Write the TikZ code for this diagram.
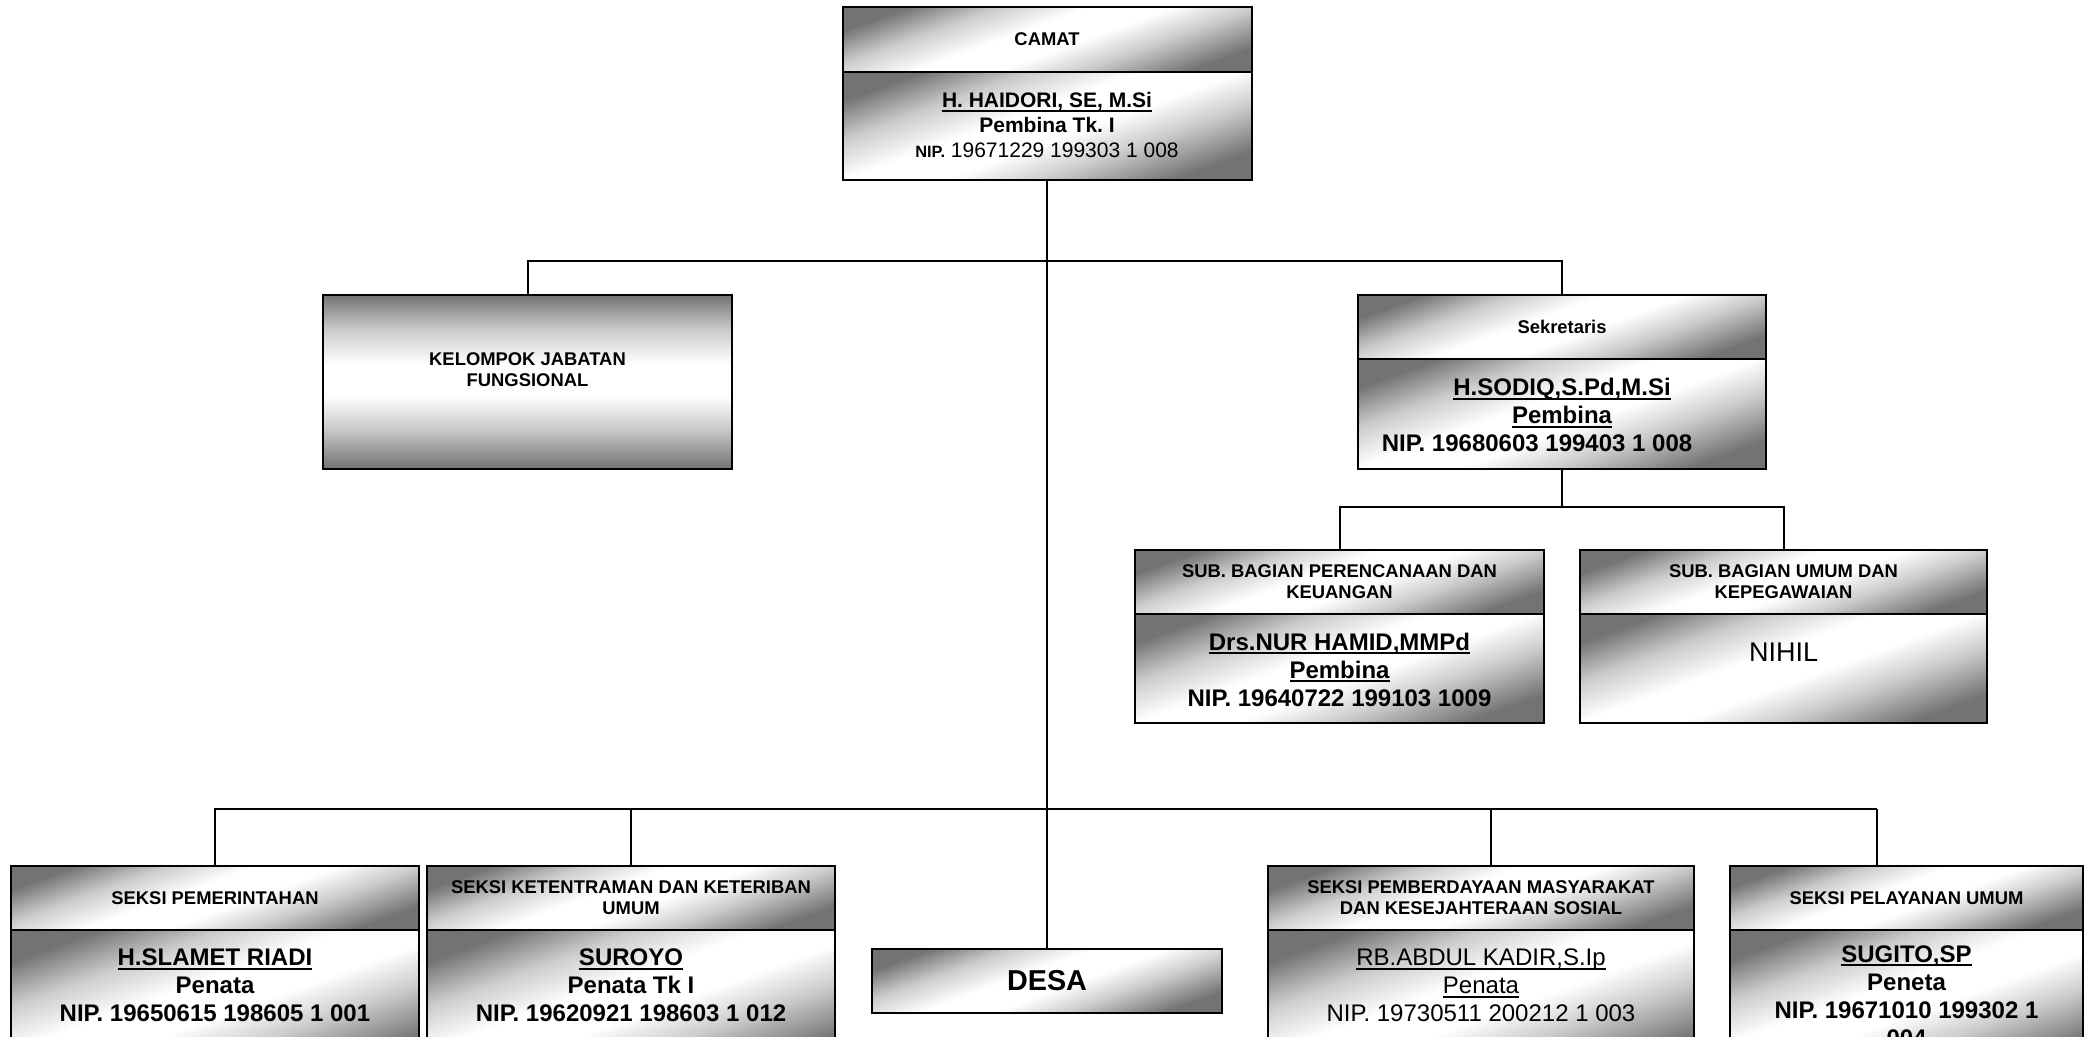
\documentclass[tikz,border=0pt]{standalone}
\usepackage{fontspec}
\setmainfont{Liberation Sans}
\frenchspacing
\definecolor{gdark}{gray}{0.45}
\definecolor{gmid}{gray}{0.80}
\pgfdeclareverticalshading{metal}{100bp}{color(0bp)=(gdark); color(25bp)=(gdark); color(37bp)=(gmid); color(46bp)=(white); color(55bp)=(white); color(65bp)=(gmid); color(75bp)=(gdark); color(100bp)=(gdark)}
\newcommand\ulx[1]{\setbox0=\hbox{#1}\rlap{\rule[-2pt]{\wd0}{1pt}}\box0}
\tikzset{
  cell/.style={draw=black, line width=1pt, shade, shading=metal, shading angle=20, inner sep=0pt, outer sep=0pt},
  hdr/.style={font=\fontsize{9.2}{10.5}\selectfont\bfseries, align=center},
  txt/.style={inner sep=0pt, align=center},
  bodyb/.style={txt, font=\fontsize{12}{14}\selectfont\bfseries},
  bodyr/.style={txt, font=\fontsize{12}{14}\selectfont},
  link/.style={draw=black, line width=1pt},
}
\begin{document}
\begin{tikzpicture}[x=0.5pt,y=-0.5pt]
\useasboundingbox (0,0) rectangle (2087,1037);
\clip (0,0) rectangle (2087,1037);
\fill[white] (0,0) rectangle (2087,1037);

% CAMAT
\node[cell, hdr, minimum width=204.5pt, minimum height=32.5pt] (camh) at (1047,39.5) {CAMAT};
\node[cell, minimum width=204.5pt, minimum height=54pt] (camb) at (1047,126) {};
\node[txt, font=\fontsize{10.5}{12.5}\selectfont\bfseries] (camt) at (1047,125)
  {\ulx{H. HAIDORI, SE, M.Si}\\Pembina Tk. I\\{\fontsize{8.2}{9}\selectfont NIP.} {\mdseries 19671229 199303 1 008}};

% KELOMPOK JABATAN FUNGSIONAL
\node[cell, shading angle=0, minimum width=204.5pt, minimum height=87pt] (kjf) at (527.5,382) {};
\node[txt, hdr] (kjft) at (527.5,370) {KELOMPOK JABATAN\\FUNGSIONAL};

% Sekretaris
\node[cell, hdr, minimum width=204pt, minimum height=32pt] (sekh) at (1562,327) {Sekretaris};
\node[cell, minimum width=204pt, minimum height=55pt] (sekb) at (1562,414) {};
\node[bodyb] (sekt) at (1562,415)
  {\ulx{H.SODIQ,S.Pd,M.Si}\\\ulx{Pembina}\\NIP. 19680603 199403 1 008\rule{25pt}{0pt}};

% Sub bagian
\node[cell, hdr, minimum width=204.5pt, minimum height=32pt] (sublh) at (1339.5,582) {SUB. BAGIAN PERENCANAAN DAN\\KEUANGAN};
\node[cell, minimum width=204.5pt, minimum height=54.5pt] (sublb) at (1339.5,668.5) {};
\node[bodyb] (sublt) at (1339.5,669.5)
  {\ulx{Drs.NUR HAMID,MMPd}\\\ulx{Pembina}\\NIP. 19640722 199103 1009};

\node[cell, hdr, minimum width=203.5pt, minimum height=32pt] (subrh) at (1783.5,582) {SUB. BAGIAN UMUM DAN\\KEPEGAWAIAN};
\node[cell, minimum width=203.5pt, minimum height=54.5pt] (subrb) at (1783.5,668.5) {};
\node[txt, font=\fontsize{13.5}{15}\selectfont] (subrt) at (1783.5,652) {NIHIL};

% Seksi
\node[cell, hdr, minimum width=204pt, minimum height=32pt] (pemh) at (215,898) {SEKSI PEMERINTAHAN};
\node[cell, minimum width=204pt, minimum height=69.5pt] (pemb) at (215,999.5) {};
\node[bodyb] (pemt) at (215,985.5)
  {\ulx{H.SLAMET RIADI}\\Penata\\NIP. 19650615 198605 1 001};

\node[cell, hdr, minimum width=204pt, minimum height=32pt] (keth) at (631,898) {SEKSI KETENTRAMAN DAN KETERIBAN\\UMUM};
\node[cell, minimum width=204pt, minimum height=69.5pt] (ketb) at (631,999.5) {};
\node[bodyb] (kett) at (631,985.5)
  {\ulx{SUROYO}\\Penata Tk I\\NIP. 19620921 198603 1 012};

\node[cell, font=\fontsize{14.4}{16}\selectfont\bfseries, minimum width=175pt, minimum height=32pt] (desa) at (1047,981) {DESA};

\node[cell, hdr, minimum width=213pt, minimum height=32pt] (pembh) at (1481,898) {SEKSI PEMBERDAYAAN MASYARAKAT\\DAN KESEJAHTERAAN SOSIAL};
\node[cell, minimum width=213pt, minimum height=69.5pt] (pembb) at (1481,999.5) {};
\node[bodyr] (pembt) at (1481,985.5)
  {\ulx{RB.ABDUL KADIR,S.Ip}\\\ulx{Penata}\\NIP. 19730511 200212 1 003};

\node[cell, hdr, minimum width=176.5pt, minimum height=32pt] (pelh) at (1906.5,898) {SEKSI PELAYANAN UMUM};
\node[cell, minimum width=176.5pt, minimum height=69.5pt] (pelb) at (1906.5,999.5) {};
\node[bodyb] (pelt) at (1906.5,996)
  {\ulx{SUGITO,SP}\\Peneta\\NIP. 19671010 199302 1\\004};

% connectors
\draw[link] (camb.south) -- (desa.north);
\draw[link] (kjf.north) -- ++(0,-34) -| (sekh.north);
\draw[link] (sekb.south) -- ++(0,38) coordinate (sj);
\draw[link] (sublh.north) |- (sj) -| (subrh.north);
\coordinate (bl) at (214,809);
\coordinate (br) at (1877,809);
\draw[link] (bl) -- (br);
\draw[link] (pemh.north) -- (pemh.north |- bl);
\draw[link] (keth.north) -- (keth.north |- bl);
\draw[link] ([xshift=5pt]pembh.north) -- ([xshift=5pt]pembh.north |- bl);
\draw[link] ([xshift=-14.75pt]pelh.north) -- ([xshift=-14.75pt]pelh.north |- bl);
\end{tikzpicture}
\end{document}
